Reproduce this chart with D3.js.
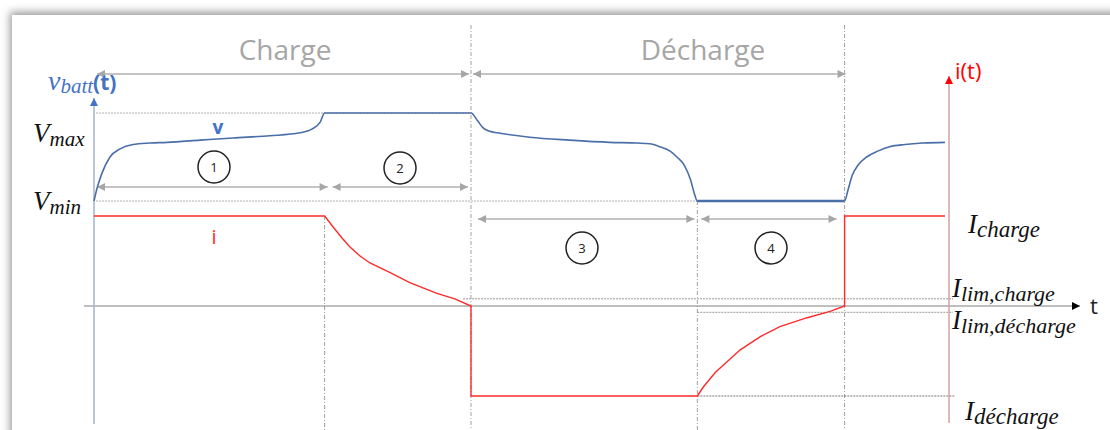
<!DOCTYPE html>
<html><head><meta charset="utf-8">
<script src="https://cdn.jsdelivr.net/npm/d3@7"></script>
<style>body{margin:0;background:#fff}svg{display:block}</style>
</head><body><svg id="c" width="1110" height="430"></svg>
<script>
// ---- data (time in arbitrary units 0..100) ----
const vTime  = [0, 0.35, 0.94, 1.88, 3.06, 4.58, 6.58, 8.58, 12.46, 16.33, 20.68, 24.2, 25.6, 26.6, 27.1, 44.3, 45.1, 45.7, 46.5, 47.4, 51.2, 55.9, 60.6, 63.8, 65.3, 66.5, 67.7, 68.5, 69.4, 70.1, 70.5, 70.9, 88.2, 88.6, 89.1, 89.8, 90.8, 92.1, 93.5, 95.3, 97.4, 100];
const vValue = [3.00, 3.17, 3.38, 3.60, 3.71, 3.77, 3.79, 3.80, 3.83, 3.86, 3.89, 3.93, 3.98, 4.08, 4.20, 4.20, 4.09, 4.00, 3.95, 3.93, 3.87, 3.83, 3.80, 3.79, 3.78, 3.74, 3.68, 3.60, 3.48, 3.29, 3.12, 3.00, 3.00, 3.15, 3.35, 3.49, 3.60, 3.68, 3.74, 3.77, 3.79, 3.80];
const iTime  = [0, 27.1, 28.08, 29.14, 30.08, 31.26, 32.43, 34.8, 37.1, 40.3, 42.4, 44.3, 44.3, 70.9, 71.6, 73.0, 75.9, 78.3, 80.6, 83.8, 86.5, 88.2, 88.2, 100];
const iValue = [1, 1, 0.88, 0.756, 0.656, 0.556, 0.478, 0.37, 0.26, 0.14, 0.08, 0, -1, -1, -0.9, -0.74, -0.49, -0.34, -0.23, -0.13, -0.06, 0, 1, 1];
const phaseBounds = [0, 27.1, 44.3, 70.9, 88.2];
const phaseLabels = ["1", "2", "3", "4"];
const modeLabels = ["Charge", "Décharge"];
const vLevels = {min: 3.0, max: 4.2};
const iLevels = {charge: 1, limCharge: 0.08, limDecharge: -0.07, decharge: -1};

// ---- scales ----
const x = d3.scaleLinear().domain([0, 100]).range([94, 945]);
const yV = d3.scaleLinear().domain([3.0, 4.2]).range([201, 113]);
const yI = d3.scaleLinear().domain([-1, 1]).range([396, 216]);

const svg = d3.select("#c");
const defs = svg.append("defs");
const f = defs.append("filter").attr("id","sh").attr("x","-5%").attr("y","-10%").attr("width","110%").attr("height","120%");
f.append("feDropShadow").attr("dx",-2).attr("dy",-3).attr("stdDeviation",4).attr("flood-color","#000").attr("flood-opacity",0.4);
function marker(id, color, w, h) {
  defs.append("marker").attr("id", id).attr("viewBox","0 0 10 10").attr("refX",10).attr("refY",5)
    .attr("markerUnits","userSpaceOnUse").attr("markerWidth",w).attr("markerHeight",h).attr("orient","auto-start-reverse")
    .append("path").attr("d","M0,0L10,5L0,10z").attr("fill",color);
}
marker("ag", "#a6a6a6", 9, 8);
marker("ab", "#4472c4", 8, 9);
marker("ar", "#ff0000", 8, 9);
marker("ak", "#000", 10, 8);

// card
svg.append("rect").attr("x",12).attr("y",15).attr("width",1130).attr("height",440).attr("fill","#fff").attr("filter","url(#sh)");

const g = svg.append("g");
const dotted = (x1,y1,x2,y2,dash,col) => g.append("line").attr("x1",x1).attr("y1",y1).attr("x2",x2).attr("y2",y2)
  .attr("stroke",col||"#a0a0a0").attr("stroke-width",1).attr("stroke-dasharray",dash||"2,2");

// vertical phase separators
dotted(x(phaseBounds[2]), 25, x(phaseBounds[2]), 430, "4,2,1,2");
dotted(x(phaseBounds[4]), 25, x(phaseBounds[4]), 430, "4,2,1,2");
dotted(x(phaseBounds[1]), yI(iLevels.charge), x(phaseBounds[1]), 430, "4,2,1,2");
dotted(x(phaseBounds[3]), yV(vLevels.min), x(phaseBounds[3]), 430, "4,2,1,2");

// horizontal reference lines
dotted(x(0)+2, yV(vLevels.max), x(phaseBounds[2]), yV(vLevels.max), "2,1", "#b0b0b0");
dotted(x(0)+2, yV(vLevels.min), x(phaseBounds[3]), yV(vLevels.min), "2,1", "#b0b0b0");
dotted(x(phaseBounds[2])-8, yI(iLevels.limCharge), x(100)+8, yI(iLevels.limCharge), "2,1", "#999");
dotted(x(phaseBounds[3]), yI(iLevels.limDecharge), x(100)+8, yI(iLevels.limDecharge), "2,1", "#999");
dotted(x(phaseBounds[3]), yI(iLevels.decharge), x(100)+10, yI(iLevels.decharge), "2,1", "#777");

// zero axis (t)
g.append("line").attr("x1",84).attr("y1",yI(0)).attr("x2",1080).attr("y2",yI(0)).attr("stroke","#808080").attr("stroke-width",1.2).attr("marker-end","url(#ak)");
g.append("text").attr("x",1090).attr("y",yI(0)+8).attr("font-family","Open Sans").attr("font-size",22).attr("fill","#222").text("t");

// left axis
g.append("line").attr("x1",x(0)).attr("y1",424).attr("x2",x(0)).attr("y2",98).attr("stroke","#a4b3d0").attr("stroke-width",1.5).attr("marker-end","url(#ab)");
// right axis
g.append("line").attr("x1",949).attr("y1",423).attr("x2",949).attr("y2",76).attr("stroke","#d4a0a0").attr("stroke-width",1.5).attr("marker-end","url(#ar)");

// mode arrows + labels
const ym = 74;
function garrow(x1,x2,y){ g.append("line").attr("x1",x1).attr("y1",y).attr("x2",x2).attr("y2",y).attr("stroke","#b0b0b0").attr("stroke-width",1.5)
  .attr("marker-start","url(#ag)").attr("marker-end","url(#ag)"); }
garrow(x(phaseBounds[0])+3, x(phaseBounds[2])-2, ym);
garrow(x(phaseBounds[2])+2, x(phaseBounds[4])+1, ym);
g.append("text").attr("x",285).attr("y",60).attr("text-anchor","middle").attr("font-family","Open Sans").attr("font-size",28).attr("fill","#a6a6a6").text(modeLabels[0]);
g.append("text").attr("x",703).attr("y",60).attr("text-anchor","middle").attr("font-family","Open Sans").attr("font-size",28).attr("fill","#a6a6a6").text(modeLabels[1]);

// phase arrows
garrow(x(phaseBounds[0])+3, x(phaseBounds[1])+3, 187);
garrow(x(phaseBounds[1])+8, x(phaseBounds[2])-3, 187);
garrow(x(phaseBounds[2])+7, x(phaseBounds[3])-3, 219);
garrow(x(phaseBounds[3])+4, x(phaseBounds[4])-8, 219);
const circ = [[214,167],[400,168],[582,248],[771,248]];
circ.forEach((c,i)=>{
  g.append("circle").attr("cx",c[0]).attr("cy",c[1]).attr("r",16).attr("fill","none").attr("stroke","#222").attr("stroke-width",1.5);
  g.append("text").attr("x",c[0]).attr("y",c[1]+5).attr("text-anchor","middle").attr("font-family","Open Sans").attr("font-size",13).attr("fill","#222").text(phaseLabels[i]);
});

// series
const vData = vTime.map((t,i)=>[t, vValue[i]]);
const iData = iTime.map((t,i)=>[t, iValue[i]]);
g.append("path").attr("d", d3.line().x(d=>x(d[0])).y(d=>yV(d[1])).curve(d3.curveMonotoneX)(vData))
  .attr("fill","none").attr("stroke","#4a6ea8").attr("stroke-width",1.6);
// thicker flat Vmin segment
g.append("path").attr("d", d3.line().x(d=>x(d[0])).y(d=>yV(d[1]))(vData.filter(d=>d[0]>=phaseBounds[3] && d[0]<=phaseBounds[4])))
  .attr("fill","none").attr("stroke","#4a6ea8").attr("stroke-width",2.6);
g.append("path").attr("d", d3.line().x(d=>x(d[0])).y(d=>yI(d[1]))(iData))
  .attr("fill","none").attr("stroke","#ff2a2a").attr("stroke-width",1.4);

g.append("text").attr("x",218).attr("y",134).attr("text-anchor","middle").attr("font-family","Open Sans").attr("font-weight","bold").attr("font-size",19).attr("fill","#4472c4").text("v");
g.append("text").attr("x",214).attr("y",244).attr("text-anchor","middle").attr("font-family","Open Sans").attr("font-size",20).attr("fill","#ff2a2a").text("i");

// math labels
function mlabel(xp, yp, main, sub, color, mainSize, subSize, dy) {
  const t = g.append("text").attr("x",xp).attr("y",yp).attr("font-family","Liberation Serif").attr("font-style","italic").attr("fill",color||"#111");
  t.append("tspan").attr("font-size",mainSize||27).text(main);
  t.append("tspan").attr("font-size",subSize||21).attr("dy",dy==null?4:dy).text(sub);
  return t;
}
mlabel(33, 142, "V", "max");
mlabel(33, 210, "V", "min");
mlabel(968, 233, "I", "charge", "#111", 27, 23);
mlabel(952, 297, "I", "lim,charge", "#111", 27, 22);
mlabel(952, 329, "I", "lim,décharge", "#111", 27, 22);
mlabel(965, 420, "I", "décharge", "#111", 27, 23);

// axis titles
const vt = g.append("text").attr("x",48).attr("y",90).attr("fill","#4472c4");
vt.append("tspan").attr("font-family","Liberation Serif").attr("font-style","italic").attr("font-size",28).text("v");
vt.append("tspan").attr("font-family","Liberation Serif").attr("font-style","italic").attr("font-size",21).attr("dy",3).text("batt");
vt.append("tspan").attr("font-family","Open Sans").attr("font-weight","bold").attr("font-size",21).attr("dy",-3).text("(t)");
g.append("text").attr("x",955).attr("y",79).attr("font-family","Open Sans").attr("font-size",22).attr("fill","#ff0000").text("i(t)");
</script></body></html>
